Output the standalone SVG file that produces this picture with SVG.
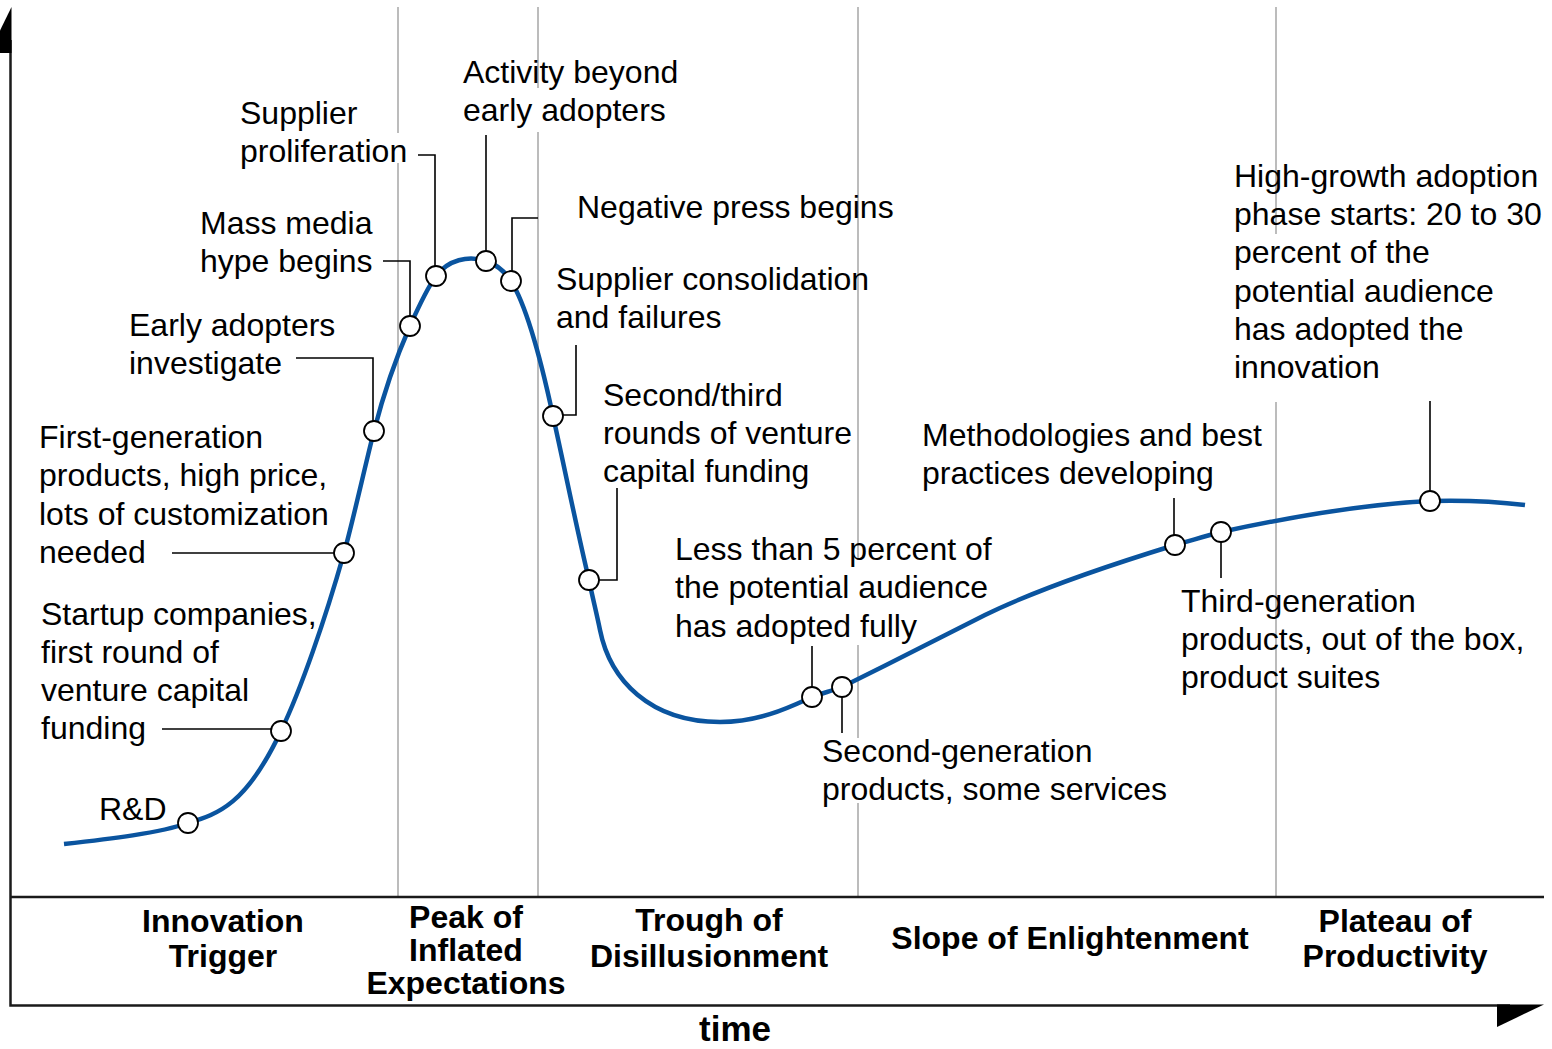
<svg xmlns="http://www.w3.org/2000/svg" width="1552" height="1049" viewBox="0 0 1552 1049">
<style>
.lbl{font-family:"Liberation Sans",Arial,sans-serif;font-size:32px;fill:#000}
.ph{font-family:"Liberation Sans",Arial,sans-serif;font-size:32px;font-weight:bold;fill:#000;text-anchor:middle}
.grid{stroke:#a6a6a6;stroke-width:1.5;fill:none}
.axis{stroke:#1a1a1a;stroke-width:2.5;fill:none}
.con{stroke:#000;stroke-width:1.6;fill:none}
.dot{fill:#fff;stroke:#000;stroke-width:1.8}
.curve{stroke:#0a549f;stroke-width:4.5;fill:none}
</style>
<rect width="1552" height="1049" fill="#fff"/>
<g id="grid">
<path class="grid" d="M398,7V133M398,163V897M538,7V88M538,132V897M858,7V560M858,645V738M858,803V897M1276,7V234M1276,402V897"/>
</g>
<g id="axes">
<path class="axis" d="M10.5,40V1005.5H1510M10.5,897H1544"/>
<polygon points="11.5,7 11.5,53 -11,53" fill="#000"/>
<polygon points="1497,1004.5 1544,1004.5 1497,1027" fill="#000"/>
</g>
<g id="curve">
<path class="curve" d="M64,844 C110,839 160,833 188,823 C218,814 246,805 281,731 C301,689 325,620 344,553 C352,525 365,466 374,431 C383,396 395,360 410,326 C418,308 426,290 436,276 C448,260 468,255 486,261 C495,264 504,270 511,281 C526,305 541,360 553,416 C565,470 577,530 589,580 C592,595 597,615 600,630 C610,680 650,722 720,722 C760,722 790,707 812,697 C822,693 832,691 842,687 C890,663 940,638 985,615 C1040,588 1110,565 1175,545 C1190,541 1205,536 1221,532 C1290,517 1370,504 1430,501 C1465,500 1500,502 1525,505"/>
</g>
<g id="connectors">
<path class="con" d="M162,729H271"/>
<path class="con" d="M172,553H334"/>
<path class="con" d="M296,358H373V421"/>
<path class="con" d="M383,261H410V316"/>
<path class="con" d="M418,155H435V266"/>
<path class="con" d="M486,135V251"/>
<path class="con" d="M538,218H512V271"/>
<path class="con" d="M576,345V415H563"/>
<path class="con" d="M617,488V580H599"/>
<path class="con" d="M812,646V687"/>
<path class="con" d="M842,697V733"/>
<path class="con" d="M1174,498V535"/>
<path class="con" d="M1221,542V578"/>
<path class="con" d="M1430,401V491"/>
</g>
<g id="n-rd"><circle class="dot" cx="188" cy="823" r="10"/><text class="lbl" x="99" y="820">R&amp;D</text></g>
<g id="n-startup"><circle class="dot" cx="281" cy="731" r="10"/><text class="lbl" x="41" y="625">Startup companies,</text><text class="lbl" x="41" y="663">first round of</text><text class="lbl" x="41" y="701">venture capital</text><text class="lbl" x="41" y="739">funding</text></g>
<g id="n-firstgen"><circle class="dot" cx="344" cy="553" r="10"/><text class="lbl" x="39" y="448">First-generation</text><text class="lbl" x="39" y="486">products, high price,</text><text class="lbl" x="39" y="525">lots of customization</text><text class="lbl" x="39" y="563">needed</text></g>
<g id="n-early"><circle class="dot" cx="374" cy="431" r="10"/><text class="lbl" x="129" y="336">Early adopters</text><text class="lbl" x="129" y="374">investigate</text></g>
<g id="n-mass"><circle class="dot" cx="410" cy="326" r="10"/><text class="lbl" x="200" y="234">Mass media</text><text class="lbl" x="200" y="272">hype begins</text></g>
<g id="n-supplier"><circle class="dot" cx="436" cy="276" r="10"/><text class="lbl" x="240" y="124">Supplier</text><text class="lbl" x="240" y="162">proliferation</text></g>
<g id="n-activity"><circle class="dot" cx="486" cy="261" r="10"/><text class="lbl" x="463" y="83">Activity beyond</text><text class="lbl" x="463" y="121">early adopters</text></g>
<g id="n-negative"><circle class="dot" cx="511" cy="281" r="10"/><text class="lbl" x="577" y="218">Negative press begins</text></g>
<g id="n-consolidation"><circle class="dot" cx="553" cy="416" r="10"/><text class="lbl" x="556" y="290">Supplier consolidation</text><text class="lbl" x="556" y="328">and failures</text></g>
<g id="n-secondthird"><circle class="dot" cx="589" cy="580" r="10"/><text class="lbl" x="603" y="406">Second/third</text><text class="lbl" x="603" y="444">rounds of venture</text><text class="lbl" x="603" y="482">capital funding</text></g>
<g id="n-lessthan"><circle class="dot" cx="812" cy="697" r="10"/><text class="lbl" x="675" y="560">Less than 5 percent of</text><text class="lbl" x="675" y="598">the potential audience</text><text class="lbl" x="675" y="637">has adopted fully</text></g>
<g id="n-secondgen"><circle class="dot" cx="842" cy="687" r="10"/><text class="lbl" x="822" y="762">Second-generation</text><text class="lbl" x="822" y="800">products, some services</text></g>
<g id="n-method"><circle class="dot" cx="1175" cy="545" r="10"/><text class="lbl" x="922" y="446">Methodologies and best</text><text class="lbl" x="922" y="484">practices developing</text></g>
<g id="n-thirdgen"><circle class="dot" cx="1221" cy="532" r="10"/><text class="lbl" x="1181" y="612">Third-generation</text><text class="lbl" x="1181" y="650">products, out of the box,</text><text class="lbl" x="1181" y="688">product suites</text></g>
<g id="n-highgrowth"><circle class="dot" cx="1430" cy="501" r="10"/><text class="lbl" x="1234" y="187">High-growth adoption</text><text class="lbl" x="1234" y="225">phase starts: 20 to 30</text><text class="lbl" x="1234" y="263">percent of the</text><text class="lbl" x="1234" y="302">potential audience</text><text class="lbl" x="1234" y="340">has adopted the</text><text class="lbl" x="1234" y="378">innovation</text></g>
<g id="phases">
<text class="ph" x="223" y="932">Innovation</text><text class="ph" x="223" y="967">Trigger</text>
<text class="ph" x="466" y="928">Peak of</text><text class="ph" x="466" y="961">Inflated</text><text class="ph" x="466" y="994">Expectations</text>
<text class="ph" x="709" y="931">Trough of</text><text class="ph" x="709" y="967">Disillusionment</text>
<text class="ph" x="1070" y="949">Slope of Enlightenment</text>
<text class="ph" x="1395" y="932">Plateau of</text><text class="ph" x="1395" y="967">Productivity</text>
<text class="ph" x="735" y="1041" style="font-size:35px">time</text>
</g>
</svg>
